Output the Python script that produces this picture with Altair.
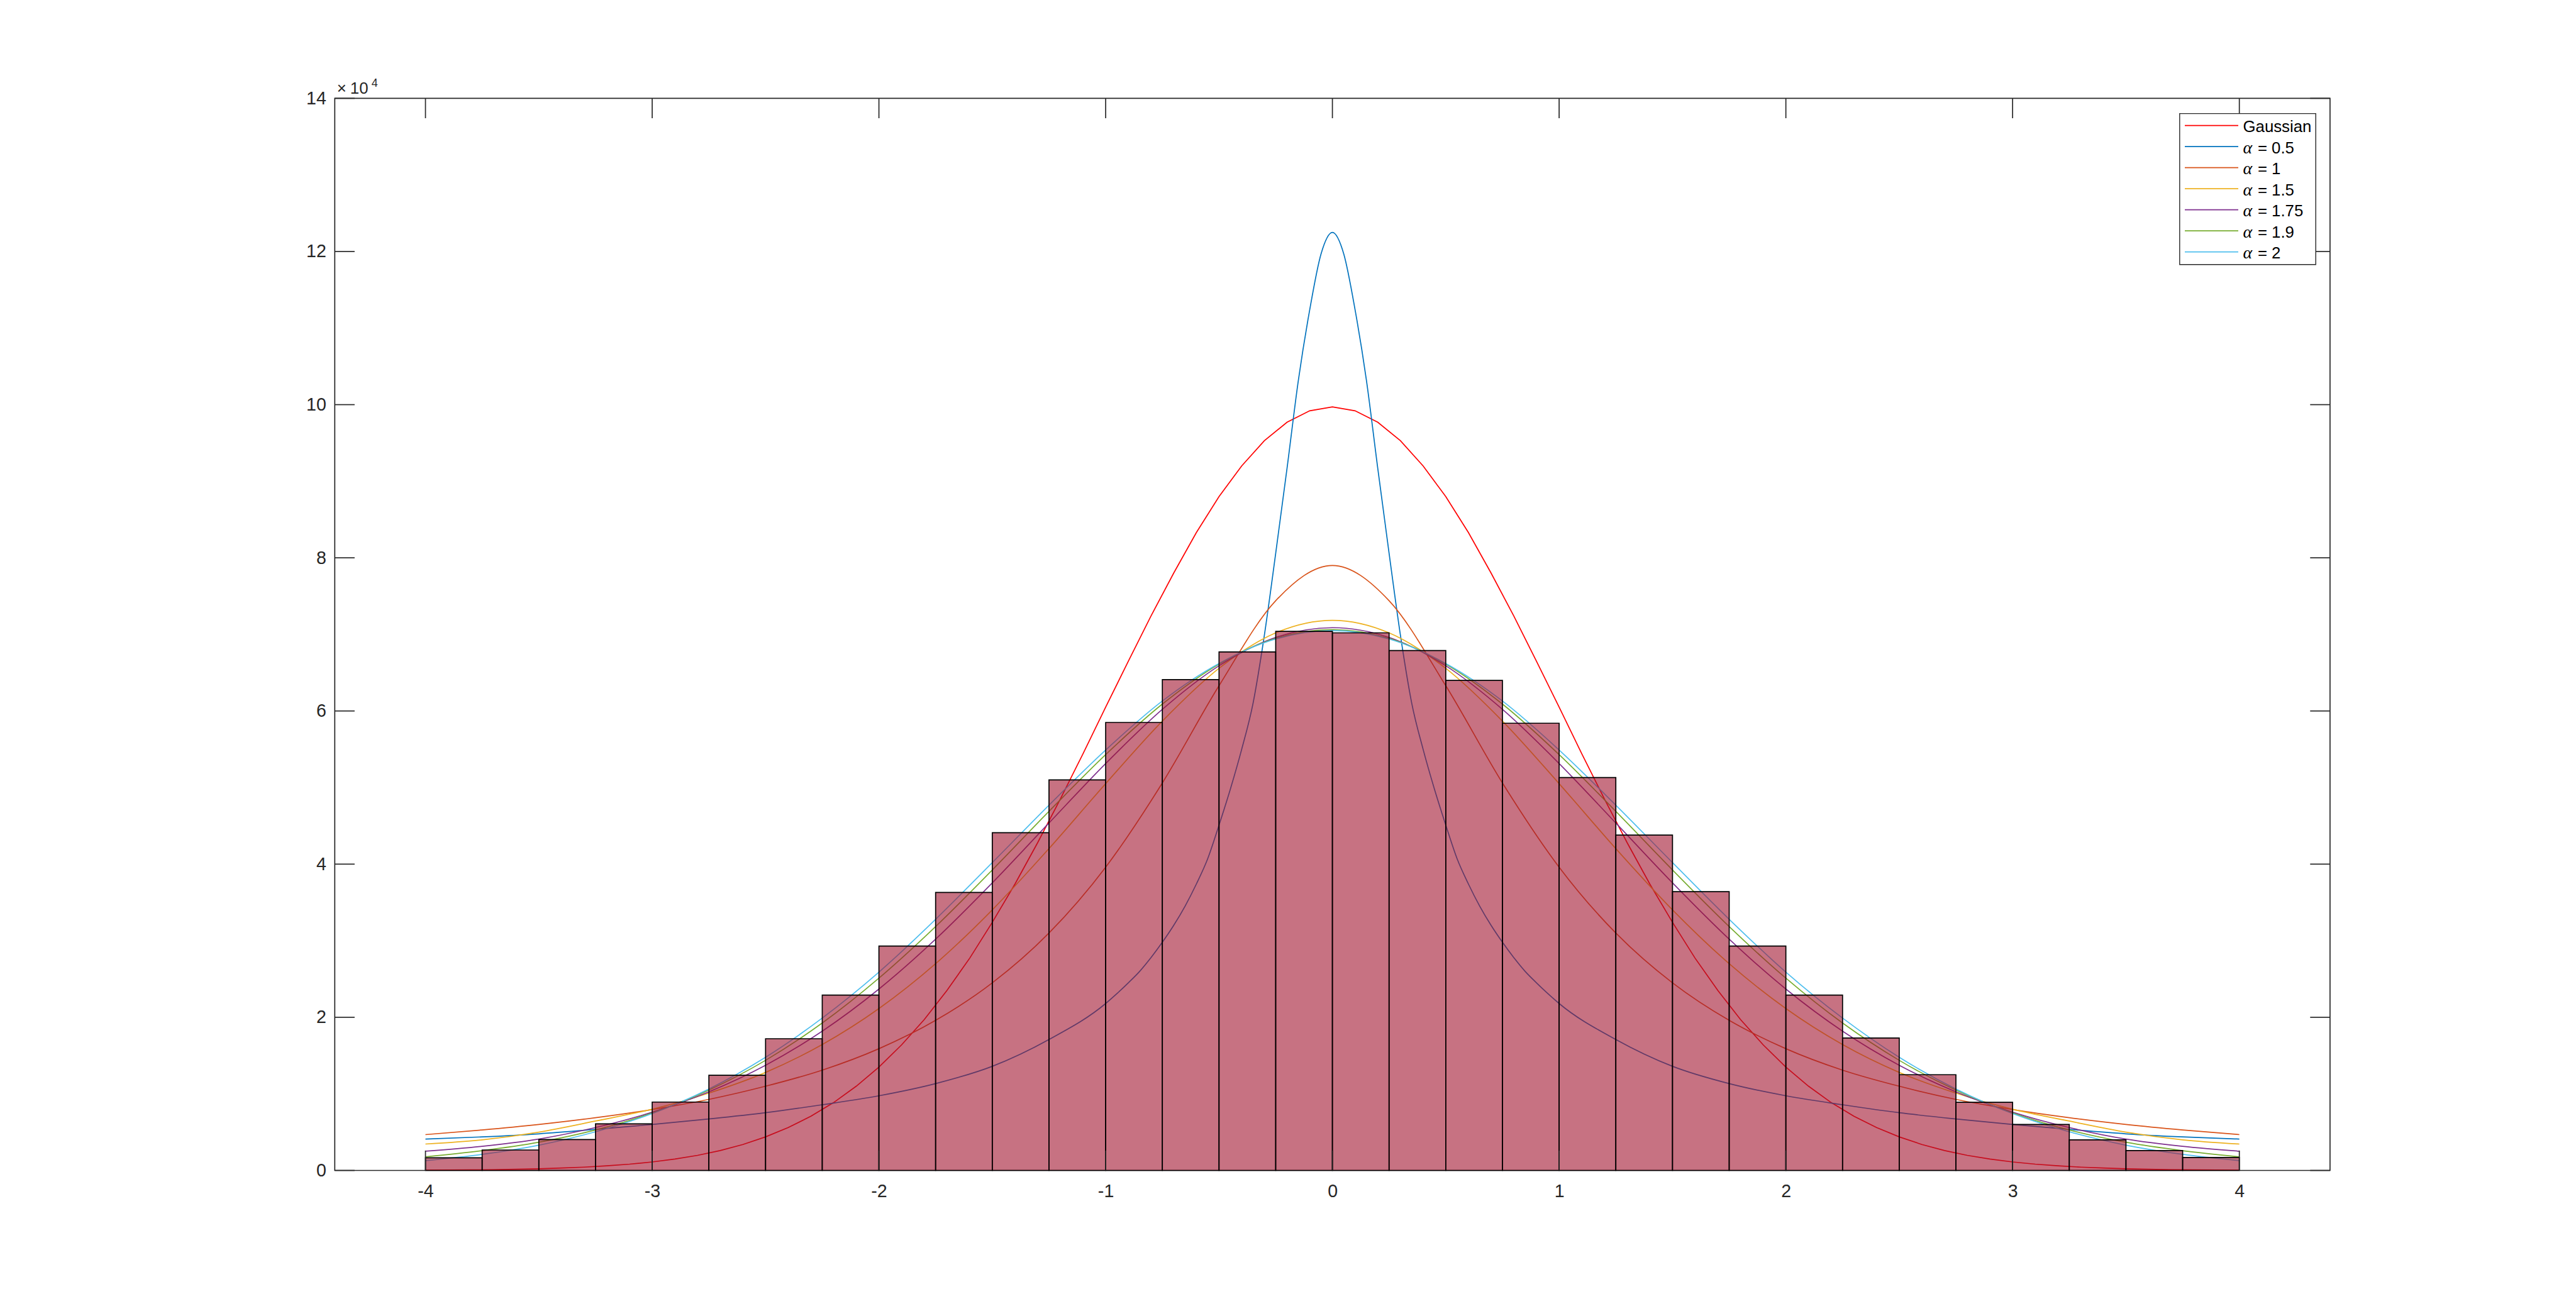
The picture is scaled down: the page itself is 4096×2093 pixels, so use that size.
import altair as alt
import pandas as pd

# ---------------- data (values in units of 1e4) ----------------
bin_edges = [-4.0, -3.75, -3.5, -3.25, -3.0, -2.75, -2.5, -2.25, -2.0, -1.75, -1.5, -1.25,
             -1.0, -0.75, -0.5, -0.25, 0.0, 0.25, 0.5, 0.75, 1.0, 1.25, 1.5, 1.75,
             2.0, 2.25, 2.5, 2.75, 3.0, 3.25, 3.5, 3.75, 4.0]
hist_counts = [0.165, 0.267, 0.403, 0.608, 0.893, 1.243, 1.72, 2.29, 2.93, 3.63, 4.41, 5.10,
               5.85, 6.41, 6.77, 7.04, 7.02, 6.79, 6.40, 5.84, 5.13, 4.38, 3.64, 2.93,
               2.29, 1.73, 1.25, 0.89, 0.60, 0.40, 0.26, 0.17]

x_grid = [-4.0, -3.75, -3.5, -3.25, -3.0, -2.75, -2.5, -2.25, -2.0, -1.75, -1.5, -1.25,
          -1.0, -0.75, -0.5, -0.25, 0.0, 0.25, 0.5, 0.75, 1.0, 1.25, 1.5, 1.75,
          2.0, 2.25, 2.5, 2.75, 3.0, 3.25, 3.5, 3.75, 4.0]

alpha_1 = [0.468, 0.529, 0.601, 0.689, 0.796, 0.928, 1.10, 1.31, 1.59, 1.96, 2.45, 3.10,
           3.96, 5.06, 6.33, 7.44, 7.90, 7.44, 6.33, 5.06, 3.96, 3.10, 2.45, 1.96,
           1.59, 1.31, 1.10, 0.928, 0.796, 0.689, 0.601, 0.529, 0.468]
alpha_1_5 = [0.345, 0.40, 0.50, 0.645, 0.80, 1.01, 1.28, 1.644, 2.114, 2.700, 3.403, 4.203,
             5.051, 5.868, 6.557, 7.020, 7.184, 7.020, 6.557, 5.868, 5.051, 4.203, 3.403, 2.700,
             2.114, 1.644, 1.28, 1.01, 0.80, 0.645, 0.50, 0.40, 0.345]
alpha_1_75 = [0.251, 0.315, 0.41, 0.56, 0.76, 1.027, 1.374, 1.819, 2.369, 3.020, 3.755, 4.537,
              5.314, 6.021, 6.590, 6.960, 7.088, 6.960, 6.590, 6.021, 5.314, 4.537, 3.755, 3.020,
              2.369, 1.819, 1.374, 1.027, 0.76, 0.56, 0.41, 0.315, 0.251]
alpha_1_9 = [0.178, 0.258, 0.368, 0.528, 0.751, 1.049, 1.438, 1.925, 2.511, 3.185, 3.924, 4.689,
             5.430, 6.090, 6.612, 6.948, 7.063, 6.948, 6.612, 6.090, 5.430, 4.689, 3.924, 3.185,
             2.511, 1.925, 1.438, 1.049, 0.751, 0.528, 0.368, 0.258, 0.178]
alpha_2 = [0.129, 0.210, 0.330, 0.505, 0.743, 1.064, 1.478, 1.99, 2.59, 3.28, 4.02, 4.77,
           5.49, 6.13, 6.62, 6.94, 7.05, 6.94, 6.62, 6.13, 5.49, 4.77, 4.02, 3.28,
           2.59, 1.99, 1.478, 1.064, 0.743, 0.505, 0.330, 0.210, 0.129]

x_alpha_0_5 = [-4.0, -3.75, -3.5, -3.25, -3.0, -2.75, -2.5, -2.25, -2.0, -1.75, -1.5, -1.25,
               -1.0, -0.95, -0.9, -0.85, -0.8, -0.75, -0.7, -0.65, -0.6, -0.55, -0.5, -0.45,
               -0.4, -0.35, -0.3, -0.25, -0.2, -0.15, -0.1, -0.05, 0.0,
               0.05, 0.1, 0.15, 0.2, 0.25, 0.3, 0.35, 0.4, 0.45, 0.5, 0.55, 0.6, 0.65,
               0.7, 0.75, 0.8, 0.85, 0.9, 0.95, 1.0, 1.25, 1.5, 1.75, 2.0, 2.25,
               2.5, 2.75, 3.0, 3.25, 3.5, 3.75, 4.0]
alpha_0_5 = [0.41, 0.438, 0.478, 0.536, 0.60, 0.672, 0.754, 0.858, 0.975, 1.134, 1.36, 1.71,
             2.18, 2.31, 2.45, 2.60, 2.78, 2.98, 3.20, 3.45, 3.74, 4.07, 4.51, 4.98,
             5.50, 6.10, 6.99, 8.06, 9.17, 10.32, 11.24, 11.97, 12.25,
             11.97, 11.24, 10.32, 9.17, 8.06, 6.99, 6.10, 5.50, 4.98, 4.51, 4.07, 3.74, 3.45,
             3.20, 2.98, 2.78, 2.60, 2.45, 2.31, 2.18, 1.71, 1.36, 1.134, 0.975, 0.858,
             0.754, 0.672, 0.60, 0.536, 0.478, 0.438, 0.41]

x_gauss = [-4.0, -3.9, -3.8, -3.7, -3.6, -3.5, -3.4, -3.3, -3.2, -3.1, -3.0, -2.9, -2.8, -2.7,
           -2.6, -2.5, -2.4, -2.3, -2.2, -2.1, -2.0, -1.9, -1.8, -1.7, -1.6, -1.5, -1.4, -1.3,
           -1.2, -1.1, -1.0, -0.9, -0.8, -0.7, -0.6, -0.5, -0.4, -0.3, -0.2, -0.1, 0.0,
           0.1, 0.2, 0.3, 0.4, 0.5, 0.6, 0.7, 0.8, 0.9, 1.0, 1.1, 1.2, 1.3, 1.4, 1.5, 1.6,
           1.7, 1.8, 1.9, 2.0, 2.1, 2.2, 2.3, 2.4, 2.5, 2.6, 2.7, 2.8, 2.9, 3.0, 3.1, 3.2,
           3.3, 3.4, 3.5, 3.6, 3.7, 3.8, 3.9, 4.0]
gaussian = [0.003, 0.005, 0.007, 0.010, 0.015, 0.022, 0.031, 0.043, 0.060, 0.082, 0.111, 0.149,
            0.197, 0.260, 0.339, 0.438, 0.560, 0.708, 0.886, 1.10, 1.35, 1.64, 1.97, 2.35,
            2.77, 3.24, 3.74, 4.28, 4.85, 5.44, 6.05, 6.65, 7.24, 7.80, 8.33, 8.80, 9.20,
            9.53, 9.77, 9.92, 9.97,
            9.92, 9.77, 9.53, 9.20, 8.80, 8.33, 7.80, 7.24, 6.65, 6.05, 5.44, 4.85, 4.28,
            3.74, 3.24, 2.77, 2.35, 1.97, 1.64, 1.35, 1.10, 0.886, 0.708, 0.560, 0.438,
            0.339, 0.260, 0.197, 0.149, 0.111, 0.082, 0.060, 0.043, 0.031, 0.022, 0.015,
            0.010, 0.007, 0.005, 0.003]

legend_labels = ["Gaussian", "= 0.5", "= 1", "= 1.5", "= 1.75", "= 1.9", "= 2"]
legend_greek = ["", "α", "α", "α", "α", "α", "α"]
series_colors = ["#FF0000", "#0072BD", "#D95319", "#EDB120", "#7E2F8E", "#77AC30", "#4DBEEE"]

x_ticks = [-4, -3, -2, -1, 0, 1, 2, 3, 4]
y_ticks = [0, 2, 4, 6, 8, 10, 12, 14]

# ---------------- layout ----------------
W = 3172.6
H = 1705.1
TICK = 31.6
AXC = "#262626"
FONT = "Liberation Sans"
LW = 1.7

xscale = alt.Scale(domain=[-4.4, 4.4], nice=False, zero=False)
yscale = alt.Scale(domain=[0, 14], nice=False, zero=False)

xaxis = alt.Axis(values=x_ticks, labelExpr="'' + datum.value", ticks=False, tickSize=0,
                 domain=False, grid=False, labelFont=FONT, labelFontSize=28.6,
                 labelColor=AXC, labelPadding=19, title=None, labelFlush=False,
                 labelOverlap=False)
yaxis = alt.Axis(values=y_ticks, ticks=False, tickSize=0, domain=False, grid=False,
                 labelFont=FONT, labelFontSize=28.6, labelColor=AXC, labelPadding=14,
                 title=None, labelFlush=False, labelOverlap=False)

# ---------------- curves ----------------
curve_specs = [
    (x_gauss, gaussian, series_colors[0], "linear"),
    (x_alpha_0_5, alpha_0_5, series_colors[1], "monotone"),
    (x_grid, alpha_1, series_colors[2], "monotone"),
    (x_grid, alpha_1_5, series_colors[3], "monotone"),
    (x_grid, alpha_1_75, series_colors[4], "monotone"),
    (x_grid, alpha_1_9, series_colors[5], "monotone"),
    (x_grid, alpha_2, series_colors[6], "monotone"),
]
curve_layers = []
for xs, ys, col, interp in curve_specs:
    d = pd.DataFrame({"x": xs, "y": ys})
    curve_layers.append(
        alt.Chart(d).mark_line(color=col, strokeWidth=LW, interpolate=interp).encode(
            x=alt.X("x:Q", scale=xscale, axis=xaxis),
            y=alt.Y("y:Q", scale=yscale, axis=yaxis),
        )
    )

# ---------------- histogram ----------------
hist_df = pd.DataFrame({"x0": bin_edges[:-1], "x1": bin_edges[1:], "count": hist_counts})
hist = alt.Chart(hist_df).mark_rect(
    fill="#A2142F", fillOpacity=0.6, stroke="#000000", strokeWidth=LW, strokeOpacity=1
).encode(
    x=alt.X("x0:Q", scale=xscale, axis=xaxis),
    x2="x1:Q",
    y=alt.Y("count:Q", scale=yscale, axis=yaxis),
    y2=alt.datum(0),
)

# ---------------- inward ticks (box style) ----------------
xt = pd.DataFrame({"t": x_ticks})
yt = pd.DataFrame({"t": y_ticks})
tick_kw = dict(color=AXC, strokeWidth=LW)
xt_bottom = alt.Chart(xt).mark_rule(**tick_kw).encode(
    x=alt.X("t:Q", scale=xscale, axis=xaxis), y=alt.value(H), y2=alt.value(H - TICK))
xt_top = alt.Chart(xt).mark_rule(**tick_kw).encode(
    x=alt.X("t:Q", scale=xscale, axis=xaxis), y=alt.value(0), y2=alt.value(TICK))
yt_left = alt.Chart(yt).mark_rule(**tick_kw).encode(
    y=alt.Y("t:Q", scale=yscale, axis=yaxis), x=alt.value(0), x2=alt.value(TICK))
yt_right = alt.Chart(yt).mark_rule(**tick_kw).encode(
    y=alt.Y("t:Q", scale=yscale, axis=yaxis), x=alt.value(W), x2=alt.value(W - TICK))

# ---------------- exponent label ----------------
one = pd.DataFrame({"a": [0]})
exp_times = alt.Chart(one).mark_text(
    text="×", font=FONT, fontSize=25.8, color=AXC, align="left", baseline="alphabetic"
).encode(x=alt.value(3.4), y=alt.value(-7))
exp_ten = alt.Chart(one).mark_text(
    text="10", font=FONT, fontSize=25.8, color=AXC, align="left", baseline="alphabetic"
).encode(x=alt.value(24.5), y=alt.value(-7))
exp_sup = alt.Chart(one).mark_text(
    text="4", font=FONT, fontSize=18, color=AXC, align="left", baseline="alphabetic"
).encode(x=alt.value(58.5), y=alt.value(-18.4))

# ---------------- legend (manual) ----------------
LB_L, LB_T, LB_R, LB_B = 2933.5, 24.2, 3149.9, 264.4
ROW0, ROWSTEP = 43.3, 33.5
n = len(legend_labels)
leg = pd.DataFrame({
    "label": legend_labels,
    "greek": legend_greek,
    "color": series_colors,
    "ly": [ROW0 + ROWSTEP * i for i in range(n)],
})
leg["ty"] = leg["ly"] + 10.3
leg["lx0"] = 2941.7
leg["lx1"] = 3026.7
leg["gx"] = 3034.2
leg["tx"] = [3034.2 if g == "" else 3057.6 for g in legend_greek]

box_df = pd.DataFrame({"x0": [LB_L], "x1": [LB_R], "y0": [LB_T], "y1": [LB_B]})
leg_box = alt.Chart(box_df).mark_rect(fill="white", stroke=AXC, strokeWidth=1.4).encode(
    x=alt.X("x0:Q", scale=None, axis=None), x2="x1:Q",
    y=alt.Y("y0:Q", scale=None, axis=None), y2="y1:Q")
leg_lines = alt.Chart(leg).mark_rule(strokeWidth=LW).encode(
    x=alt.X("lx0:Q", scale=None, axis=None), x2="lx1:Q",
    y=alt.Y("ly:Q", scale=None, axis=None),
    color=alt.Color("color:N", scale=None, legend=None))
leg_text = alt.Chart(leg).mark_text(
    font=FONT, fontSize=25.8, color="#000000", align="left", baseline="alphabetic").encode(
    x=alt.X("tx:Q", scale=None, axis=None),
    y=alt.Y("ty:Q", scale=None, axis=None),
    text="label:N")
leg_greek = alt.Chart(leg).mark_text(
    font="Liberation Serif", fontStyle="italic", fontSize=28, color="#000000",
    align="left", baseline="alphabetic").encode(
    x=alt.X("gx:Q", scale=None, axis=None),
    y=alt.Y("ty:Q", scale=None, axis=None),
    text="greek:N")

chart = alt.layer(
    *curve_layers, hist, xt_bottom, xt_top, yt_left, yt_right, exp_times, exp_ten, exp_sup,
    leg_box, leg_lines, leg_text, leg_greek
).properties(
    width=W, height=H,
    padding={"left": 524.3, "top": 148.4, "right": 380, "bottom": 220},
    autosize=alt.AutoSizeParams(type="none"),
    background="white",
).configure_view(stroke=AXC, strokeWidth=LW)

chart.save("out.html", embed_options={"renderer": "svg", "actions": False})
